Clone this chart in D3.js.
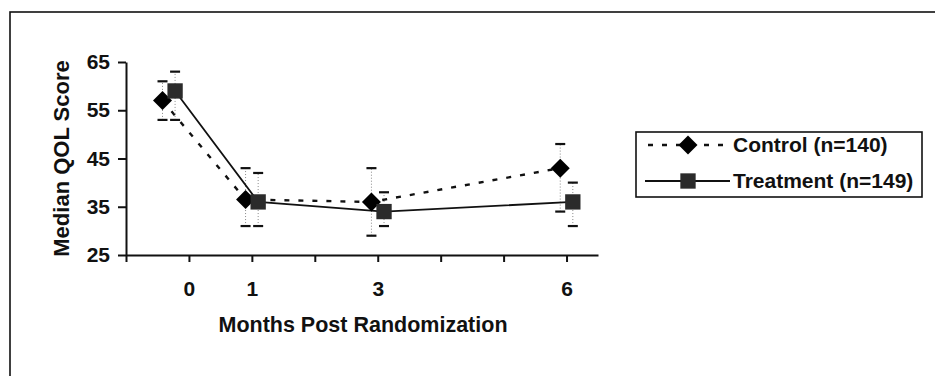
<!DOCTYPE html>
<html>
<head>
<meta charset="utf-8">
<script src="https://cdn.jsdelivr.net/npm/d3@7"></script>
<style>
  body { margin: 0; background: #fff; }
  svg text { font-family: "Liberation Sans", Arial, sans-serif; font-weight: bold; fill: #111; }
</style>
</head>
<body>
<div class="chart"></div>
<script>
// ------------------------------------------------------------------------------------------------------------------
// Data
var months        = [0, 1, 3, 6];
var seriesNames   = ["Control (n=140)", "Treatment (n=149)"];
var controlX      = [-0.42, 0.9, 2.9, 5.9];      // plotted position on the month axis
var treatmentX    = [-0.22, 1.1, 3.1, 6.1];
var controlMed    = [57, 36.5, 36, 43];
var controlLow    = [53, 31, 29, 34];
var controlHigh   = [61, 43, 43, 48];
var treatmentMed  = [59, 36, 34, 36];
var treatmentLow  = [53, 31, 31, 31];
var treatmentHigh = [63, 42, 38, 40];
var yTicks        = [25, 35, 45, 55, 65];
var xTicks        = [-1, 0, 1, 2, 3, 4, 5, 6];

// ------------------------------------------------------------------------------------------------------------------
// Global var
var width = 935, height = 376;

var svg = d3.select(".chart").append("svg")
  .attr("width", width)
  .attr("height", height);

// outer frame (right and bottom run off the page)
svg.append("rect")
  .attr("x", 10).attr("y", 12)
  .attr("width", 960).attr("height", 400)
  .attr("fill", "none")
  .attr("stroke", "#111")
  .attr("stroke-width", 1.6);

var x = d3.scaleLinear().domain([-1, 6.5]).range([126, 598]);
var y = d3.scaleLinear().domain([25, 65]).range([255, 62]);

// ------------------------------------------------------------------------------------------------------------------
// Axes
var yAxis = svg.append("g")
  .attr("transform", "translate(" + x(-1) + ",0)")
  .call(d3.axisLeft(y).tickValues(yTicks).tickSize(8).tickPadding(8).tickSizeOuter(0));
yAxis.select(".domain").attr("stroke", "#111").attr("stroke-width", 2);
yAxis.selectAll(".tick line").attr("stroke", "#111").attr("stroke-width", 2);
yAxis.selectAll("text").style("font-size", "21px").attr("fill", "#111");

var xAxis = svg.append("g")
  .attr("transform", "translate(0," + y(25) + ")")
  .call(d3.axisBottom(x).tickValues(xTicks).tickSize(7).tickPadding(19).tickSizeOuter(0)
    .tickFormat(function(d) { return months.indexOf(d) >= 0 ? d : ""; }));
xAxis.select(".domain").attr("stroke", "#111").attr("stroke-width", 2);
xAxis.selectAll(".tick line").attr("stroke", "#111").attr("stroke-width", 2);
xAxis.selectAll("text").style("font-size", "21px").attr("fill", "#111");

svg.append("text")
  .attr("x", 363).attr("y", 332)
  .attr("text-anchor", "middle")
  .style("font-size", "21.5px")
  .text("Months Post Randomization");

svg.append("text")
  .attr("transform", "translate(69," + ((y(25) + y(65)) / 2) + ") rotate(-90)")
  .attr("text-anchor", "middle")
  .style("font-size", "22px")
  .text("Median QOL Score");

// ------------------------------------------------------------------------------------------------------------------
// Series
var diamond = d3.symbol().type(d3.symbolDiamond2 || d3.symbolDiamond).size(230);
var square  = d3.symbol().type(d3.symbolSquare).size(235);

var series = [
  { xs: controlX,   med: controlMed,   low: controlLow,   high: controlHigh,   dash: "5,9", shape: diamond, fill: "#000" },
  { xs: treatmentX, med: treatmentMed, low: treatmentLow, high: treatmentHigh, dash: null,  shape: square,  fill: "#2b2b2b" }
];

var line = d3.line()
  .x(function(d) { return x(d[0]); })
  .y(function(d) { return y(d[1]); });

series.forEach(function(s) {
  var pts = s.xs.map(function(v, i) { return [v, s.med[i], s.low[i], s.high[i]]; });

  // error bars : dotted stem + solid caps
  var eb = svg.append("g");
  eb.selectAll("line.stem").data(pts).enter().append("line")
    .attr("x1", function(d) { return x(d[0]); })
    .attr("x2", function(d) { return x(d[0]); })
    .attr("y1", function(d) { return y(d[2]); })
    .attr("y2", function(d) { return y(d[3]); })
    .attr("stroke", "#888")
    .attr("stroke-width", 1)
    .attr("stroke-dasharray", "1,2");
  [2, 3].forEach(function(k) {
    eb.selectAll("line.cap" + k).data(pts).enter().append("line")
      .attr("x1", function(d) { return x(d[0]) - 5; })
      .attr("x2", function(d) { return x(d[0]) + 5; })
      .attr("y1", function(d) { return y(d[k]); })
      .attr("y2", function(d) { return y(d[k]); })
      .attr("stroke", "#111")
      .attr("stroke-width", 2.2);
  });

  svg.append("path")
    .attr("d", line(pts))
    .attr("fill", "none")
    .attr("stroke", "#111")
    .attr("stroke-width", s.dash ? 2.4 : 1.8)
    .attr("stroke-dasharray", s.dash);
});

series.forEach(function(s) {
  svg.selectAll(null).data(s.xs).enter().append("path")
    .attr("transform", function(d, i) { return "translate(" + x(d) + "," + y(s.med[i]) + ")"; })
    .attr("d", s.shape)
    .attr("fill", s.fill);
});

// ------------------------------------------------------------------------------------------------------------------
// Legend
var legend = svg.append("g");
legend.append("rect")
  .attr("x", 636).attr("y", 132)
  .attr("width", 286).attr("height", 65)
  .attr("fill", "#fff")
  .attr("stroke", "#111")
  .attr("stroke-width", 1.6);

var rowY = [145, 181];
series.forEach(function(s, i) {
  legend.append("line")
    .attr("x1", s.dash ? 648 : 645).attr("x2", 730)
    .attr("y1", rowY[i]).attr("y2", rowY[i])
    .attr("stroke", "#111")
    .attr("stroke-width", s.dash ? 2.4 : 1.8)
    .attr("stroke-dasharray", s.dash);
  legend.append("path")
    .attr("transform", "translate(688," + rowY[i] + ")")
    .attr("d", s.shape)
    .attr("fill", s.fill);
  legend.append("text")
    .attr("x", 733).attr("y", rowY[i] + 7)
    .style("font-size", "21px")
    .text(seriesNames[i]);
});
</script>
</body>
</html>
